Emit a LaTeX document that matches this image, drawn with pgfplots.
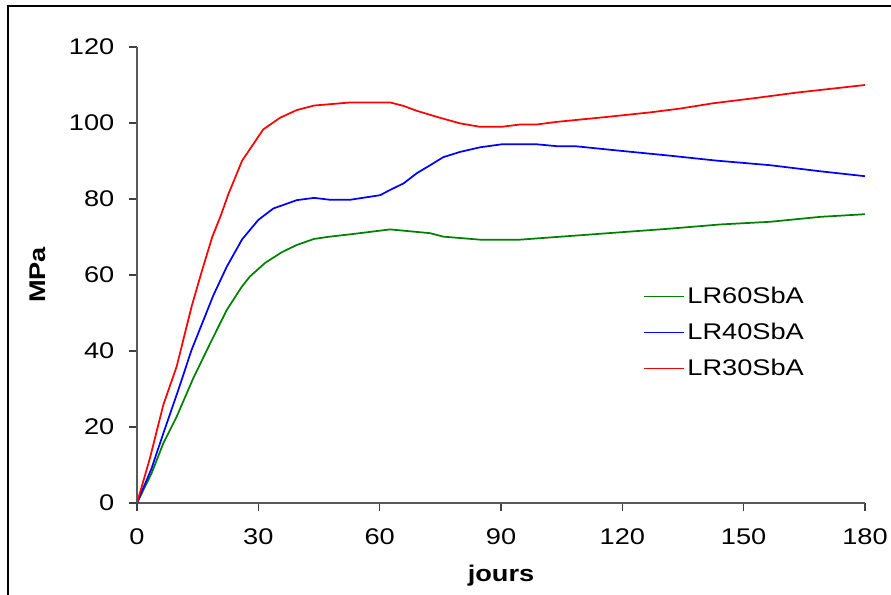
\documentclass[border=0pt]{standalone}
\usepackage{fontspec}
\setmainfont{Liberation Sans}[FakeStretch=1.2]
\usepackage{pgfplots}
\pgfplotsset{compat=1.18}
\begin{document}
\begin{tikzpicture}
\useasboundingbox (0,0) rectangle (668.25pt,445.5pt);
\draw[line width=1.2pt] (6pt,-2pt) -- (6pt,441pt) -- (670pt,441pt);
\begin{axis}[
  at={(102.75pt,68.25pt)}, anchor=south west,
  scale only axis, width=546pt, height=342pt,
  xmin=0, xmax=180, ymin=0, ymax=120,
  xtick={0,30,...,180}, ytick={0,20,...,120},
  axis x line*=bottom, axis y line*=left,
  axis line style={black!65, line width=0.9pt, -},
  tick style={black!75, line width=0.9pt},
  tick align=outside, major tick length=6pt,
  font=\fontsize{17}{20}\selectfont,
  /pgf/number format/assume math mode=true,
  xticklabel style={yshift=-10pt},
  yticklabel style={xshift=-7.5pt},
  xlabel={\bfseries jours}, ylabel={\bfseries MPa},
  xlabel style={at={(axis description cs:0.5,0)}, anchor=center, yshift=-54.75pt},
  ylabel style={at={(axis description cs:0,0.5)}, anchor=center, yshift=74.25pt},
  legend cell align=left,
  legend style={draw=none, fill=none, at={(0.69,0.485)}, anchor=north west,
    row sep=9pt, font=\fontsize{17}{20}\selectfont},
  legend image code/.code={\draw[#1, line width=0.9pt] (0pt,0pt) -- (30pt,0pt);},
  every axis plot/.append style={line width=1.3pt},
]
\addplot[color={rgb,255:red,0;green,128;blue,0}] coordinates {
(0,0) (3.6,7.8) (6.5,15.7) (9.8,22.7) (13.9,32.8) (18,41.8) (22.2,50.8)
(25.9,56.9) (27.9,59.6) (31.7,63.2) (35.8,66) (39.5,67.9) (43.8,69.5)
(47.7,70.1) (52.7,70.7) (62.6,72) (72.5,71) (75.7,70.1) (84.8,69.3)
(94.7,69.3) (131.8,72.2) (144.2,73.3) (156.5,74) (168.9,75.3) (180,76)
};
\addlegendentry{LR60SbA}
\addplot[color={rgb,255:red,0;green,0;blue,255}] coordinates {
(0,0) (3.6,9.1) (6.5,18.3) (10.2,29.7) (13.5,40.3) (18.9,54.7) (22.2,62.2)
(26,69.4) (30,74.5) (33.7,77.5) (39.5,79.7) (43.8,80.3) (47.7,79.8)
(52.7,79.8) (60.1,81) (62.6,82.4) (65.9,84.1) (69.2,86.8) (72.5,88.9)
(75.7,91) (79.9,92.4) (84.8,93.6) (90.2,94.4) (98.8,94.4) (103.8,93.9)
(108.3,93.9) (119.4,92.7) (131.8,91.4) (143.3,90.1) (156.5,88.9)
(168.9,87.3) (180,86)
};
\addlegendentry{LR40SbA}
\addplot[color={rgb,255:red,255;green,0;blue,0}] coordinates {
(0,0) (3.2,11.8) (6.5,25.8) (9.8,35.9) (13.5,51.7) (16,60.9) (18.6,70)
(20.7,75.6) (22.6,81.3) (26,90.1) (31.2,98.3) (35.4,101.4) (39.5,103.4)
(43.8,104.6) (52.7,105.4) (62.6,105.4) (65.9,104.5) (69.2,103.2)
(74.5,101.5) (79.9,99.9) (84.8,99) (90.2,99) (94.7,99.6) (98.8,99.6)
(103.8,100.3) (115.3,101.5) (126.9,102.8) (134.3,103.8) (142.5,105.2)
(152.4,106.5) (163.1,108) (180,110)
};
\addlegendentry{LR30SbA}
\end{axis}
\end{tikzpicture}
\end{document}
